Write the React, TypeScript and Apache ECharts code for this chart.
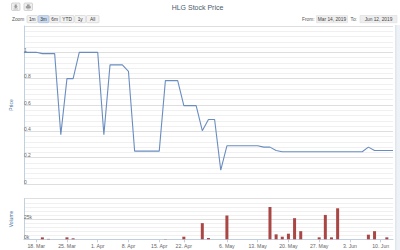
import { useEffect, useRef } from 'react';
import * as echarts from 'echarts';

const dates = [
  '2019-03-14', '2019-03-15', '2019-03-18', '2019-03-19', '2019-03-20', '2019-03-21', '2019-03-22',
  '2019-03-25', '2019-03-26', '2019-03-27', '2019-03-28', '2019-03-29',
  '2019-04-01', '2019-04-02', '2019-04-03', '2019-04-04', '2019-04-05',
  '2019-04-08', '2019-04-09', '2019-04-10', '2019-04-11', '2019-04-12',
  '2019-04-16', '2019-04-17', '2019-04-18', '2019-04-19',
  '2019-04-22', '2019-04-23', '2019-04-24', '2019-04-25', '2019-04-26',
  '2019-05-02', '2019-05-03',
  '2019-05-06', '2019-05-07', '2019-05-08', '2019-05-09', '2019-05-10',
  '2019-05-13', '2019-05-14', '2019-05-15', '2019-05-16', '2019-05-17',
  '2019-05-20', '2019-05-21', '2019-05-22', '2019-05-23', '2019-05-24',
  '2019-05-27', '2019-05-28', '2019-05-29', '2019-05-30', '2019-05-31',
  '2019-06-03', '2019-06-04', '2019-06-05', '2019-06-06', '2019-06-07',
  '2019-06-10', '2019-06-11', '2019-06-12',
];

const price = [
  1.0, 1.0, 1.0, 0.99, 0.99, 0.99, 0.375, 0.8, 0.8, 1.0,
  1.0, 1.0, 1.0, 0.375, 0.905, 0.905, 0.905, 0.855, 0.25, 0.25,
  0.25, 0.25, 0.25, 0.785, 0.785, 0.785, 0.595, 0.595, 0.595, 0.405,
  0.49, 0.49, 0.105, 0.29, 0.29, 0.29, 0.29, 0.29, 0.29, 0.28,
  0.28, 0.255, 0.245, 0.245, 0.245, 0.245, 0.245, 0.245, 0.245, 0.245,
  0.245, 0.245, 0.245, 0.245, 0.245, 0.245, 0.28, 0.255, 0.255, 0.255,
  0.255,
];

const volume = [
  0, 0, 0, 2400, 500, 0, 0, 2400, 1200, 0,
  0, 0, 0, 0, 0, 0, 0, 0, 0, 0,
  0, 0, 0, 300, 0, 0, 3200, 0, 0, 19900,
  1600, 0, 0, 29300, 0, 0, 0, 0, 0, 0,
  39800, 6100, 3200, 6900, 26000, 10000, 0, 0, 2400, 30000,
  2400, 38200, 0, 0, 0, 0, 5700, 10000, 0, 2400,
  0,
];

const tickDates = [
  '2019-03-18', '2019-03-25', '2019-04-01', '2019-04-08', '2019-04-16', '2019-04-22',
  '2019-05-06', '2019-05-13', '2019-05-20', '2019-05-27', '2019-06-03', '2019-06-10',
];
const tickLabels = [
  '18. Mar', '25. Mar', '1. Apr', '8. Apr', '15. Apr', '22. Apr',
  '6. May', '13. May', '20. May', '27. May', '3. Jun', '10. Jun',
];

const zoomButtons = ['1m', '3m', '6m', 'YTD', '1y', 'All'];
const selectedZoom = '3m';
const fromDate = 'Mar 14, 2019';
const toDate = 'Jun 12, 2019';
const title = 'HLG Stock Price';

const FONT = '"Liberation Sans", Arial, sans-serif';

export default function App() {
  const ref = useRef<HTMLDivElement>(null);

  useEffect(() => {
    const chart = echarts.init(ref.current!, null, { renderer: 'svg' });

    const btnWidths = [10.5, 10.5, 10, 13.5, 11, 12.5];
    const buttons: any[] = [];
    let bx = 27;
    zoomButtons.forEach((b, i) => {
      const w = btnWidths[i];
      const sel = b === selectedZoom;
      buttons.push({
        type: 'rect',
        shape: { x: bx, y: 15.5, width: w, height: 7.2, r: 0.8 },
        style: { fill: sel ? '#c9daf0' : '#f3f3f3', stroke: sel ? '#9fb6d6' : '#cfcfcf', lineWidth: 0.6 },
      });
      buttons.push({
        type: 'text',
        style: {
          x: bx + w / 2, y: 19.2, text: b, fontSize: 4.8, fontFamily: FONT,
          fill: '#333', align: 'center', verticalAlign: 'middle',
        },
      });
      bx += w + 0.8;
    });

    const tickIdx = (i: number, v: string) => tickDates.indexOf(v) >= 0;

    const option: any = {
      animation: false,
      backgroundColor: '#ffffff',
      textStyle: { fontFamily: FONT },
      grid: [
        { left: 12, right: 7, top: 26, height: 158 },
        { left: 12, right: 7, top: 198.7, height: 40.6 },
      ],
      xAxis: [
        {
          type: 'category', gridIndex: 0, data: dates, boundaryGap: false,
          axisLine: { show: false }, axisTick: { show: false }, axisLabel: { show: false },
          splitLine: { show: false },
        },
        {
          type: 'category', gridIndex: 1, data: dates, boundaryGap: false,
          axisLine: { show: true, lineStyle: { color: '#C0D0E0', width: 1 } },
          axisTick: { show: true, interval: tickIdx, length: 3, lineStyle: { color: '#C0D0E0' } },
          axisLabel: {
            interval: tickIdx, margin: 4.5, fontSize: 5.2, color: '#666',
            formatter: (v: string) => tickLabels[tickDates.indexOf(v)] ?? '',
          },
          splitLine: { show: false },
        },
      ],
      yAxis: [
        {
          type: 'value', gridIndex: 0, min: 0, max: 1.2, interval: 0.2, position: 'left',
          axisLine: { show: true, lineStyle: { color: '#C0D0E0' } },
          axisTick: { show: false },
          axisLabel: {
            inside: true, margin: 0, verticalAlign: 'bottom', fontSize: 5, color: '#666',
            showMaxLabel: false,
            formatter: (v: number) => String(Math.round(v * 10) / 10),
          },
          splitLine: { lineStyle: { color: '#dedede', width: 1 } },
          minorTick: { show: false, splitNumber: 5 },
          minorSplitLine: { show: true, lineStyle: { color: '#f0f0f0', width: 1 } },
          name: 'Price', nameLocation: 'middle', nameGap: 4, nameRotate: 90,
          nameTextStyle: { fontSize: 5, color: '#4d759e', fontFamily: FONT },
        },
        {
          type: 'value', gridIndex: 1, min: 0, max: 50000, interval: 25000, position: 'left',
          axisLine: { show: true, lineStyle: { color: '#C0D0E0' } },
          axisTick: { show: false },
          axisLabel: {
            inside: true, margin: 0, verticalAlign: 'bottom', fontSize: 5, color: '#666',
            showMaxLabel: false,
            formatter: (v: number) => Math.round(v / 1000) + 'k',
          },
          splitLine: { lineStyle: { color: '#dedede', width: 1 } },
          minorTick: { show: false, splitNumber: 5 },
          minorSplitLine: { show: true, lineStyle: { color: '#f0f0f0', width: 1 } },
          name: 'Volume', nameLocation: 'middle', nameGap: 4, nameRotate: 90,
          nameTextStyle: { fontSize: 5, color: '#4d759e', fontFamily: FONT },
        },
      ],
      series: [
        {
          type: 'line', name: 'Price', xAxisIndex: 0, yAxisIndex: 0, data: price,
          showSymbol: false, symbol: 'none',
          lineStyle: { color: '#6a8dc0', width: 1.1 },
        },
        {
          type: 'bar', name: 'Volume', xAxisIndex: 1, yAxisIndex: 1, data: volume,
          barWidth: 3, itemStyle: { color: '#AA4643' },
        },
      ],
      graphic: [
        {
          type: 'text',
          style: {
            x: 197.5, y: 7, text: title, fontSize: 7, fontFamily: FONT,
            fill: '#4a5a6c', align: 'center', verticalAlign: 'middle',
          },
        },
        { type: 'rect', shape: { x: 11.5, y: 3, width: 8.5, height: 7.5, r: 1 }, style: { fill: '#efefef', stroke: '#bdbdbd', lineWidth: 0.6 } },
        { type: 'polygon', shape: { points: [[14.7, 4.6], [16.8, 4.6], [16.8, 6.5], [18, 6.5], [15.75, 8.4], [13.5, 6.5], [14.7, 6.5]] }, style: { fill: '#9a9a9a' } },
        { type: 'rect', shape: { x: 13.5, y: 8.7, width: 4.5, height: 0.6 }, style: { fill: '#9a9a9a' } },
        { type: 'rect', shape: { x: 24, y: 3, width: 8.5, height: 7.5, r: 1 }, style: { fill: '#efefef', stroke: '#bdbdbd', lineWidth: 0.6 } },
        { type: 'rect', shape: { x: 26.9, y: 4.4, width: 2.7, height: 1.6 }, style: { fill: '#9a9a9a' } },
        { type: 'rect', shape: { x: 25.8, y: 6.1, width: 4.9, height: 2.2 }, style: { fill: '#9a9a9a' } },
        { type: 'rect', shape: { x: 26.9, y: 8.3, width: 2.7, height: 1 }, style: { fill: '#b0b0b0' } },
        {
          type: 'text',
          style: { x: 12, y: 19.3, text: 'Zoom', fontSize: 4.8, fontFamily: FONT, fill: '#555', verticalAlign: 'middle' },
        },
        ...buttons,
        {
          type: 'text',
          style: { x: 302, y: 19.3, text: 'From:', fontSize: 4.8, fontFamily: FONT, fill: '#555', verticalAlign: 'middle' },
        },
        { type: 'rect', shape: { x: 316.5, y: 15.5, width: 31, height: 7.2 }, style: { fill: '#eeeeee', stroke: '#dddddd', lineWidth: 0.6 } },
        {
          type: 'text',
          style: { x: 332, y: 19.3, text: fromDate, fontSize: 4.8, fontFamily: FONT, fill: '#444', align: 'center', verticalAlign: 'middle' },
        },
        {
          type: 'text',
          style: { x: 350.5, y: 19.3, text: 'To:', fontSize: 4.8, fontFamily: FONT, fill: '#555', verticalAlign: 'middle' },
        },
        { type: 'rect', shape: { x: 360, y: 15.5, width: 37, height: 7.2 }, style: { fill: '#eeeeee', stroke: '#dddddd', lineWidth: 0.6 } },
        {
          type: 'text',
          style: { x: 378.5, y: 19.3, text: toDate, fontSize: 4.8, fontFamily: FONT, fill: '#444', align: 'center', verticalAlign: 'middle' },
        },
        { type: 'rect', shape: { x: 396, y: 25, width: 4, height: 225 }, style: { fill: '#eef2f7' } },
        { type: 'line', shape: { x1: 395.8, y1: 25, x2: 395.8, y2: 250 }, style: { stroke: '#d3dce8', lineWidth: 1 } },
      ],
    };

    chart.setOption(option);
    return () => chart.dispose();
  }, []);

  return (
    <div
      ref={ref}
      style={{ position: 'fixed', left: 0, top: 0, width: 400, height: 250, background: '#fff' }}
    />
  );
}
